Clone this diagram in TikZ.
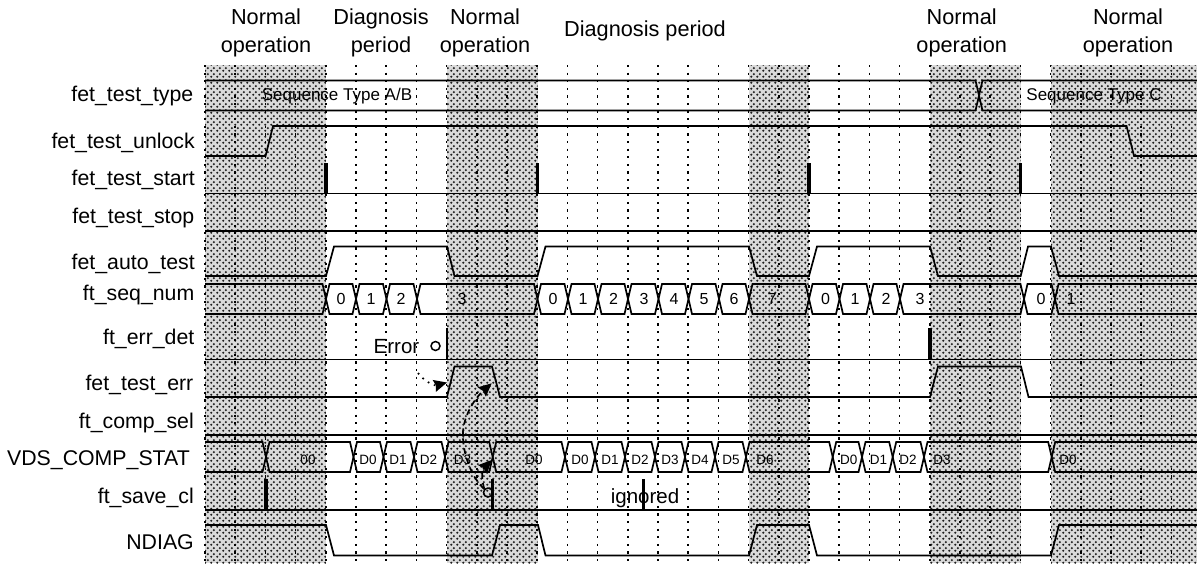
\documentclass[tikz,border=0pt]{standalone}
\usepackage{fontspec}
\setmainfont{Liberation Sans}
\usepackage{xcolor}
\usetikzlibrary{patterns,arrows.meta}
\definecolor{dotInk}{HTML}{1E1E1E}
\definecolor{dotGround}{HTML}{DADADA}
\pgfdeclarepatternformonly{shadeDots}{\pgfqpoint{0pt}{0pt}}{\pgfqpoint{6pt}{6pt}}{\pgfqpoint{6pt}{6pt}}{
\pgfpathcircle{\pgfqpoint{1.5pt}{1.5pt}}{1.35pt}
\pgfpathcircle{\pgfqpoint{4.5pt}{4.5pt}}{1.35pt}
\pgfusepath{fill}
}
\tikzset{
wave/.style={line width=1.7pt,line join=miter},
pulse/.style={line width=3.4pt},
gridline/.style={line width=1.6pt,dash pattern=on 2.2pt off 5.4pt},
shadeband/.style={fill=dotGround,postaction={pattern=shadeDots,pattern color=dotInk}},
headtext/.style={font=\fontsize{21.7}{28}\selectfont,align=center,inner sep=0pt},
signame/.style={font=\fontsize{21.3}{25}\selectfont,anchor=base east,inner sep=0pt},
seqtext/.style={font=\fontsize{16}{18}\selectfont,anchor=base,inner sep=0pt},
vdstext/.style={font=\fontsize{13.5}{16}\selectfont,anchor=base,inner sep=0pt},
typetext/.style={font=\fontsize{17}{19}\selectfont,anchor=base,inner sep=0pt},
notetext/.style={font=\fontsize{20.5}{24}\selectfont,anchor=base,inner sep=0pt},
ringmark/.style={draw,circle,line width=1.5pt,inner sep=0pt,minimum size=9pt},
tipbig/.style={-{Stealth[length=13pt,width=12pt,inset=1.5pt]}},
}
\begin{document}
\begin{tikzpicture}[x=1pt,y=-1pt]
\useasboundingbox (0,0) rectangle (1197,563);

\foreach \bandl/\bandr in {205/326,447/537.5,749/809,930/1020.7,1051/1197}
  \path[shadeband] (\bandl,65) rectangle (\bandr,563);

\foreach \k in {0,...,32}
  \draw[gridline] ({205+30.2*\k},65) -- ({205+30.2*\k},563);

\node[headtext] (headA) at (266,33) {Normal\\operation};
\node[headtext] (headB) at (381,33) {Diagnosis\\period};
\node[headtext] (headC) at (485,33) {Normal\\operation};
\node[headtext] (headD) at (645,31) {Diagnosis period};
\node[headtext] (headE) at (961.7,33) {Normal\\operation};
\node[headtext] (headF) at (1128,33) {Normal\\operation};

\foreach \lname/\ltext/\lx/\ly in {
  sigType/fet\_test\_type/193.5/101.7,
  sigUnlock/fet\_test\_unlock/195/148,
  sigStart/fet\_test\_start/195/185.7,
  sigStop/fet\_test\_stop/194.5/223,
  sigAuto/fet\_auto\_test/195/269,
  sigSeq/ft\_seq\_num/194.5/300,
  sigDet/ft\_err\_det/194.5/344,
  sigErr/fet\_test\_err/193.5/390.7,
  sigSel/ft\_comp\_sel/194/428,
  sigVds/VDS\_COMP\_STAT/190/465,
  sigSave/ft\_save\_cl/194/503,
  sigDiag/NDIAG/194/549}
  \node[signame] (\lname) at (\lx,\ly) {\ltext};

\draw[wave] (205,80.5) -- (975.5,80.5) -- (982.5,110.5) -- (1197,110.5);
\draw[wave] (205,110.5) -- (975.5,110.5) -- (982.5,80.5) -- (1197,80.5);
\node[typetext] (typeAB) at (337,100.7) {Sequence Type A/B};
\node[typetext] (typeC) at (1094,100.7) {Sequence Type C};

\draw[wave] (205,156) -- (265.5,156) -- (273,126) -- (1126.5,126) -- (1134,156) -- (1197,156);

\draw[wave] (205,193.5) -- (1197,193.5);
\foreach \px in {326,537.5,809,1020.7}
  \draw[pulse] (\px,163) -- (\px,194);

\draw[wave] (205,231) -- (1197,231);

\draw[wave] (205,276) -- (326,276) -- (334,246.5) -- (447,246.5) -- (454.5,276) -- (537.5,276) -- (545.5,246.5) -- (749,246.5) -- (757,276) -- (809,276) -- (817,246.5) -- (930,246.5) -- (938,276) -- (1020.7,276) -- (1028,246.5) -- (1051,246.5) -- (1059,276) -- (1197,276);

\draw[wave] (205,284) -- (322.5,284) -- (326,299) -- (322.5,314) -- (205,314);
\foreach \a/\b in {326/356,356/386.5,386.5/417,417/537.5,537.5/568,568/598,598/628,628/658.5,658.5/688.5,688.5/719,719/749,749/809,809/839.5,839.5/870,870/900,900/1024,1024/1055}
  \draw[wave] (\a,299) -- (\a+3.5,284) -- (\b-3.5,284) -- (\b,299) -- (\b-3.5,314) -- (\a+3.5,314) -- cycle;
\draw[wave] (1197,284) -- (1058.5,284) -- (1055,299) -- (1058.5,314) -- (1197,314);
\foreach \tx/\tval [count=\i] in {341/0,371/1,401/2,462/3,553/0,583/1,613.5/2,644/3,674/4,704/5,734/6,772/7,825.5/0,855/1,886/2,920/3,1041/0,1071/1}
  \node[seqtext] (seq\i) at (\tx,304) {\tval};

\draw[wave] (205,359.5) -- (1197,359.5);
\draw[wave] (447,328) -- (447,359.5);
\draw[pulse] (930,328) -- (930,360);
\node[notetext] (errText) at (396.5,353) {Error};
\node[ringmark] (errRing) at (435.5,346) {};

\draw[wave] (205,397) -- (447,397) -- (454.5,366.5) -- (492,366.5) -- (500,397) -- (930,397) -- (938,366.5) -- (1021,366.5) -- (1028.5,397) -- (1197,397);

\draw[wave] (205,435) -- (1197,435);

\draw[wave] (205,442) -- (262.5,442) -- (266,457) -- (262.5,472) -- (205,472);
\foreach \a/\b in {266/353.5,353.5/383.5,383.5/414,414/445,445/492.7,492.7/565,565/595,595/625,625/655,655/685,685/715,715/746,746/832.7,832.7/862,862/892.7,892.7/924,924/1051.7}
  \draw[wave] (\a,457) -- (\a+3.5,442) -- (\b-3.5,442) -- (\b,457) -- (\b-3.5,472) -- (\a+3.5,472) -- cycle;
\draw[wave] (1197,442) -- (1055.2,442) -- (1051.7,457) -- (1055.2,472) -- (1197,472);
\foreach \tx/\tval [count=\i] in {308/00,368/D0,398/D1,428.5/D2,462.5/D3,534/D0,580/D0,610/D1,640/D2,670/D3,700/D4,731/D5,765/D6,848.7/D0,878.5/D1,908/D2,942/D3,1068/D0}
  \node[vdstext] (vds\i) at (\tx,464) {\tval};

\draw[wave] (205,510) -- (1197,510);
\foreach \px in {266,492.5,643.5}
  \draw[pulse] (\px,479) -- (\px,511);
\node[notetext] (ignoreText) at (645,503.5) {ignored};
\node[ringmark] (saveRing) at (488,492.5) {};

\draw[wave] (205,525) -- (326,525) -- (334,555.5) -- (492,555.5) -- (500,525) -- (538,525) -- (545.5,555.5) -- (749,555.5) -- (757,525) -- (809,525) -- (817,555.5) -- (1051,555.5) -- (1059,525) -- (1197,525);

\coordinate (errFrom) at (418,373);
\coordinate (errTip) at (447,382.5);
\coordinate (longTip) at (491.7,383.3);
\coordinate (shortTip) at (491.7,460);
\coordinate (bendPoint) at (463,432);
\draw[line width=1.7pt,dash pattern=on 1.7pt off 5pt,tipbig] (errFrom) .. controls (424,381) and (434,386) .. (errTip);
\draw[line width=1.7pt,dash pattern=on 6pt off 4pt,tipbig] (saveRing) .. controls (470,476) and (462,450) .. (bendPoint) .. controls (464,415) and (475,398) .. (longTip);
\draw[line width=1.7pt,dash pattern=on 6pt off 4pt,tipbig] (saveRing.north west) .. controls (481,478) and (482,470) .. (shortTip);
\end{tikzpicture}
\end{document}
